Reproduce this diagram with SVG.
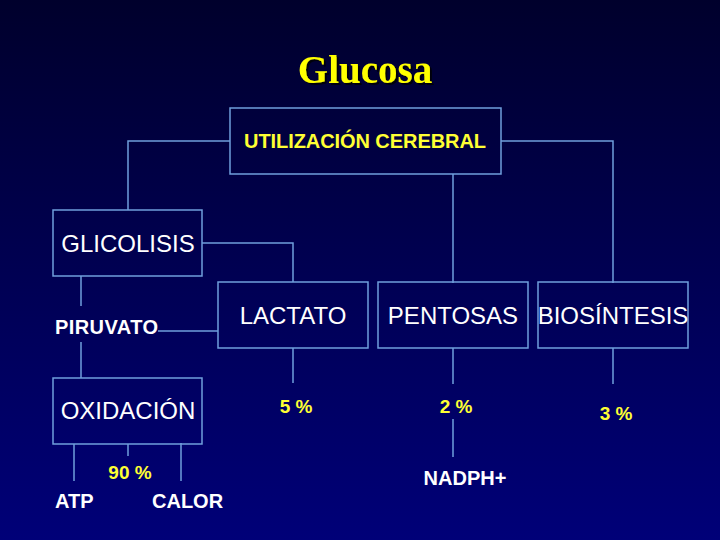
<svg xmlns="http://www.w3.org/2000/svg" width="720" height="540" viewBox="0 0 720 540">
<defs>
<linearGradient id="bg" x1="0" y1="0" x2="0" y2="1">
<stop offset="0" stop-color="#00002c"/>
<stop offset="1" stop-color="#000078"/>
</linearGradient>
<filter id="shadow" x="-10%" y="-20%" width="130%" height="150%">
<feDropShadow dx="2" dy="2" stdDeviation="0.5" flood-color="#000000" flood-opacity="0.8"/>
</filter>
<style>
.box{fill:none;stroke:#6f9fdc;stroke-width:1.5}
.ln{fill:none;stroke:#6f9fdc;stroke-width:1.5}
.w{font-family:"Liberation Sans",Arial,sans-serif;fill:#ffffff;font-size:24px}
.wb{font-family:"Liberation Sans",Arial,sans-serif;fill:#ffffff;font-size:20px;font-weight:bold}
.y{font-family:"Liberation Sans",Arial,sans-serif;fill:#ffff33;font-size:19px;font-weight:bold}
</style>
</defs>
<rect width="720" height="540" fill="url(#bg)"/>
<g id="title">
<text x="365" y="83" text-anchor="middle" font-family="'Liberation Serif',serif" font-weight="bold" font-size="39" fill="#ffff00" filter="url(#shadow)">Glucosa</text>
</g>
<g id="connectors">
<polyline class="ln" points="230,141 128,141 128,210"/>
<polyline class="ln" points="501,141 613,141 613,283"/>
<line class="ln" x1="453" y1="174" x2="453" y2="283"/>
<polyline class="ln" points="202,243 293,243 293,282"/>
<line class="ln" x1="81" y1="276" x2="81" y2="306"/>
<line class="ln" x1="158" y1="331" x2="218" y2="331"/>
<line class="ln" x1="81" y1="342" x2="81" y2="378"/>
<line class="ln" x1="293" y1="348" x2="293" y2="383"/>
<line class="ln" x1="453" y1="348" x2="453" y2="384"/>
<line class="ln" x1="453" y1="419" x2="453" y2="457"/>
<line class="ln" x1="613" y1="348" x2="613" y2="384"/>
<line class="ln" x1="74" y1="444" x2="74" y2="481"/>
<line class="ln" x1="128" y1="444" x2="128" y2="456"/>
<line class="ln" x1="181" y1="443" x2="181" y2="481"/>
</g>
<g id="utilizacion">
<rect class="box" x="230" y="108" width="271" height="66"/>
<text x="365" y="148" text-anchor="middle" font-family="'Liberation Sans',Arial,sans-serif" font-weight="bold" font-size="20" fill="#ffff33" textLength="242">UTILIZACIÓN CEREBRAL</text>
</g>
<g id="glicolisis">
<rect class="box" x="53" y="210" width="149" height="66"/>
<text class="w" x="128" y="252" text-anchor="middle">GLICOLISIS</text>
</g>
<g id="piruvato">
<text class="wb" x="55" y="334" textLength="103">PIRUVATO</text>
</g>
<g id="lactato">
<rect class="box" x="218" y="282" width="150" height="66"/>
<text class="w" x="293" y="324" text-anchor="middle">LACTATO</text>
</g>
<g id="pentosas">
<rect class="box" x="378" y="282" width="150" height="66"/>
<text class="w" x="453" y="324" text-anchor="middle">PENTOSAS</text>
</g>
<g id="biosintesis">
<rect class="box" x="538" y="282" width="150" height="66"/>
<text class="w" x="613" y="324" text-anchor="middle">BIOSÍNTESIS</text>
</g>
<g id="oxidacion">
<rect class="box" x="53" y="378" width="149" height="66"/>
<text class="w" x="128" y="419" text-anchor="middle">OXIDACIÓN</text>
</g>
<g id="pct5"><text class="y" x="296" y="413" text-anchor="middle">5 %</text></g>
<g id="pct2"><text class="y" x="456" y="413" text-anchor="middle">2 %</text></g>
<g id="pct3"><text class="y" x="616" y="420" text-anchor="middle">3 %</text></g>
<g id="pct90"><text class="y" x="130" y="479" text-anchor="middle">90 %</text></g>
<g id="nadph"><text class="wb" x="465" y="485" text-anchor="middle">NADPH+</text></g>
<g id="atp"><text class="wb" x="55" y="508">ATP</text></g>
<g id="calor"><text class="wb" x="152" y="508">CALOR</text></g>
</svg>
